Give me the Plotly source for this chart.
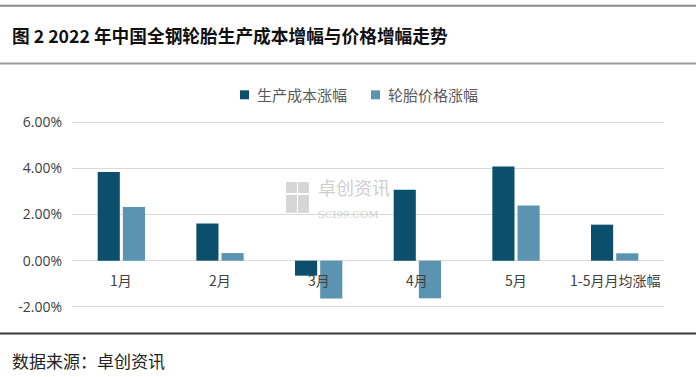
import plotly.graph_objects as go

categories = ["1月", "2月", "3月", "4月", "5月", "1-5月月均涨幅"]
cost_rise = [3.84, 1.61, -0.65, 3.07, 4.08, 1.56]
price_rise = [2.32, 0.33, -1.64, -1.63, 2.39, 0.32]
tick_vals = [-2, 0, 2, 4, 6]
tick_text = ["-2.00%", "0.00%", "2.00%", "4.00%", "6.00%"]
series_names = ["生产成本涨幅", "轮胎价格涨幅"]
series_colors = ["#0B4F6C", "#5B94B1"]

W, H = 700, 377
L, R, T, B = 72, 36, 120.8, 68.5
PW, PH = W - L - R, H - T - B

def px_x(px):
    return (px - L) / PW

def px_y(py):
    return (H - B - py) / PH

CJK = "Noto Sans CJK SC"

fig = go.Figure()
fig.add_trace(go.Bar(x=categories, y=cost_rise, name=series_names[0],
                     marker=dict(color=series_colors[0], line=dict(width=0))))
fig.add_trace(go.Bar(x=categories, y=price_rise, name=series_names[1],
                     marker=dict(color=series_colors[1], line=dict(width=0))))

annotations = []
for c in categories:
    annotations.append(dict(x=c, y=-0.82, xref="x", yref="y", text=c, showarrow=False,
                            font=dict(family=CJK, size=14, color="#404040"),
                            xanchor="center", yanchor="middle"))
annotations.append(dict(x=px_x(10), y=px_y(34), xref="paper", yref="paper",
                        text="<b>图 2 2022 年中国全钢轮胎生产成本增幅与价格增幅走势</b>",
                        showarrow=False, xanchor="left", yanchor="middle",
                        font=dict(family=CJK, size=17.7, color="#111111")))
annotations.append(dict(x=px_x(10), y=px_y(361), xref="paper", yref="paper",
                        text="数据来源：卓创资讯", showarrow=False, xanchor="left", yanchor="middle",
                        font=dict(family=CJK, size=17, color="#222222")))
# watermark
annotations.append(dict(x=px_x(316), y=px_y(197), xref="paper", yref="paper",
                        text="卓创资讯<br><span style='font-family:DejaVu Serif;font-size:10px'>SCI99.COM</span>",
                        showarrow=False, xanchor="left", yanchor="middle", align="left",
                        font=dict(family=CJK, size=18, color="#cfcfcf")))

shapes = [
    dict(type="line", xref="paper", yref="paper", x0=px_x(0), x1=px_x(696), y0=px_y(5), y1=px_y(5),
         line=dict(color="#8a8a8a", width=2)),
    dict(type="line", xref="paper", yref="paper", x0=px_x(0), x1=px_x(696), y0=px_y(63), y1=px_y(63),
         line=dict(color="#9a9a9a", width=2)),
    dict(type="line", xref="paper", yref="paper", x0=px_x(0), x1=px_x(696), y0=px_y(334), y1=px_y(334),
         line=dict(color="#3a3a3a", width=2)),
]
# manual legend
legend_pos = [(240, 255), (371, 386)]
for (sx, tx), name, col in zip(legend_pos, series_names, series_colors):
    shapes.append(dict(type="rect", xref="paper", yref="paper", x0=px_x(sx), x1=px_x(sx + 9),
                       y0=px_y(90), y1=px_y(99), fillcolor=col, line=dict(width=0)))
    annotations.append(dict(x=px_x(tx), y=px_y(94.5), xref="paper", yref="paper", text=name,
                            showarrow=False, xanchor="left", yanchor="middle",
                            font=dict(family=CJK, size=15, color="#595959")))
# watermark icon squares
for (x0, y0, x1, y1) in [(286, 182, 297, 193), (298, 182, 309, 193), (286, 195, 297, 213), (298, 195, 309, 213)]:
    shapes.append(dict(type="rect", xref="paper", yref="paper", x0=px_x(x0), x1=px_x(x1),
                       y0=px_y(y0), y1=px_y(y1), fillcolor="#d6d6d6", line=dict(width=0), layer="below"))

fig.update_layout(
    width=W, height=H,
    margin=dict(l=L, r=R, t=T, b=B, pad=0),
    paper_bgcolor="white", plot_bgcolor="white",
    barmode="group", bargap=0.49, bargroupgap=0.12,
    showlegend=False,
    xaxis=dict(showticklabels=False, showgrid=False, zeroline=False, showline=False, ticks=""),
    yaxis=dict(range=[-2.05, 6.05], tickvals=tick_vals, ticktext=tick_text,
               showgrid=True, gridcolor="#d9d9d9", gridwidth=1,
               zeroline=True, zerolinecolor="#d9d9d9", zerolinewidth=1,
               showline=False, ticks="", ticklabelstandoff=9,
               tickfont=dict(family="Open Sans", size=14, color="#404040")),
    annotations=annotations,
    shapes=shapes,
    font=dict(family=CJK),
)

fig.write_html("out.html", config={"displayModeBar": False},
               post_script="document.body.style.margin='0';document.body.style.padding='0';")
